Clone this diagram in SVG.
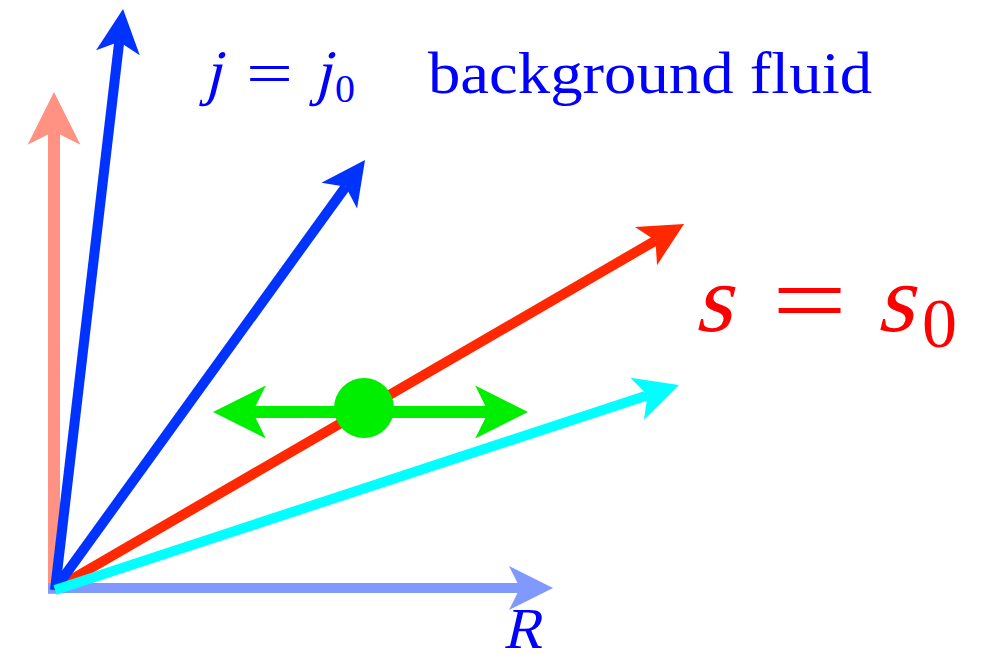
<svg xmlns="http://www.w3.org/2000/svg" width="990" height="660" viewBox="0 0 990 660">
  <style>
    .ln { fill: none; stroke-linecap: butt; }
    .t { font-family: "Liberation Serif", "Times New Roman", serif; }
  </style>
  <defs>
    <marker id="hSalmon" viewBox="0 -2.2 4.4 4.4" refX="1.1" refY="0" markerWidth="4.4" markerHeight="4.4" markerUnits="strokeWidth" orient="auto" overflow="visible"><path d="M4.4,0 L0,-2.2 L1.1,0 L0,2.2 Z" fill="#FF9282"/></marker>
    <marker id="hLight" viewBox="0 -2.2 4.4 4.4" refX="1.1" refY="0" markerWidth="4.4" markerHeight="4.4" markerUnits="strokeWidth" orient="auto" overflow="visible"><path d="M4.4,0 L0,-2.2 L1.1,0 L0,2.2 Z" fill="#8099FF"/></marker>
    <marker id="hBlue" viewBox="0 -2.2 4.4 4.4" refX="1.1" refY="0" markerWidth="4.4" markerHeight="4.4" markerUnits="strokeWidth" orient="auto" overflow="visible"><path d="M4.4,0 L0,-2.2 L1.1,0 L0,2.2 Z" fill="#0033FF"/></marker>
    <marker id="hRed" viewBox="0 -2.2 4.4 4.4" refX="1.1" refY="0" markerWidth="4.4" markerHeight="4.4" markerUnits="strokeWidth" orient="auto" overflow="visible"><path d="M4.4,0 L0,-2.2 L1.1,0 L0,2.2 Z" fill="#FF2800"/></marker>
    <marker id="hCyan" viewBox="0 -2.2 4.4 4.4" refX="1.1" refY="0" markerWidth="4.4" markerHeight="4.4" markerUnits="strokeWidth" orient="auto" overflow="visible"><path d="M4.4,0 L0,-2.2 L1.1,0 L0,2.2 Z" fill="#00FFFF"/></marker>
    <marker id="hGreen" viewBox="0 -2.2 4.4 4.4" refX="1.1" refY="0" markerWidth="4.4" markerHeight="4.4" markerUnits="strokeWidth" orient="auto-start-reverse" overflow="visible"><path d="M4.4,0 L0,-2.2 L1.1,0 L0,2.2 Z" fill="#00EE00"/></marker>
  </defs>

  <g id="connectors">
    <line class="ln" x1="54" y1="594" x2="54" y2="131.6" stroke="#FF9282" stroke-width="12" marker-end="url(#hSalmon)"/>
    <line class="ln" x1="48" y1="588" x2="520" y2="588" stroke="#8099FF" stroke-width="10" marker-end="url(#hLight)"/>
    <line class="ln" x1="55" y1="589" x2="655.5" y2="240.6" stroke="#FF2800" stroke-width="10" marker-end="url(#hRed)"/>
    <line class="ln" x1="55" y1="590" x2="119.2" y2="41.8" stroke="#0033FF" stroke-width="10" marker-end="url(#hBlue)"/>
    <line class="ln" x1="55" y1="589" x2="345.7" y2="186.7" stroke="#0033FF" stroke-width="10" marker-end="url(#hBlue)"/>
    <line class="ln" x1="55" y1="590" x2="647.6" y2="395.3" stroke="#00FFFF" stroke-width="10" marker-end="url(#hCyan)"/>
    <line class="ln" x1="252.6" y1="412" x2="488.4" y2="412" stroke="#00EE00" stroke-width="12" marker-start="url(#hGreen)" marker-end="url(#hGreen)"/>
  </g>

  <g id="particle">
    <circle cx="364" cy="408" r="30" fill="#00EE00"/>
  </g>

  <g id="label-j" fill="#0000FF">
    <text class="t" font-size="62" transform="translate(204,93) skewX(-14)">j</text>
    <text class="t" x="246" y="94" font-size="62" textLength="47" lengthAdjust="spacingAndGlyphs">=</text>
    <text class="t" font-size="62" transform="translate(314,93) skewX(-14)">j</text>
    <text class="t" x="335" y="102" font-size="40">0</text>
  </g>

  <g id="label-background">
    <text class="t" x="428" y="93" font-size="60" fill="#0000FF" textLength="444" lengthAdjust="spacingAndGlyphs">background fluid</text>
  </g>

  <g id="label-s" fill="#FF0000">
    <text class="t" font-size="96" transform="translate(694,331) skewX(-14)">s</text>
    <text class="t" x="772" y="334" font-size="100" textLength="75" lengthAdjust="spacingAndGlyphs">=</text>
    <text class="t" font-size="96" transform="translate(876,331) skewX(-14)">s</text>
    <text class="t" x="922" y="347" font-size="70">0</text>
  </g>

  <g id="label-R">
    <text class="t" font-size="58" fill="#0000FF" transform="translate(503,648) skewX(-13)">R</text>
  </g>
</svg>
